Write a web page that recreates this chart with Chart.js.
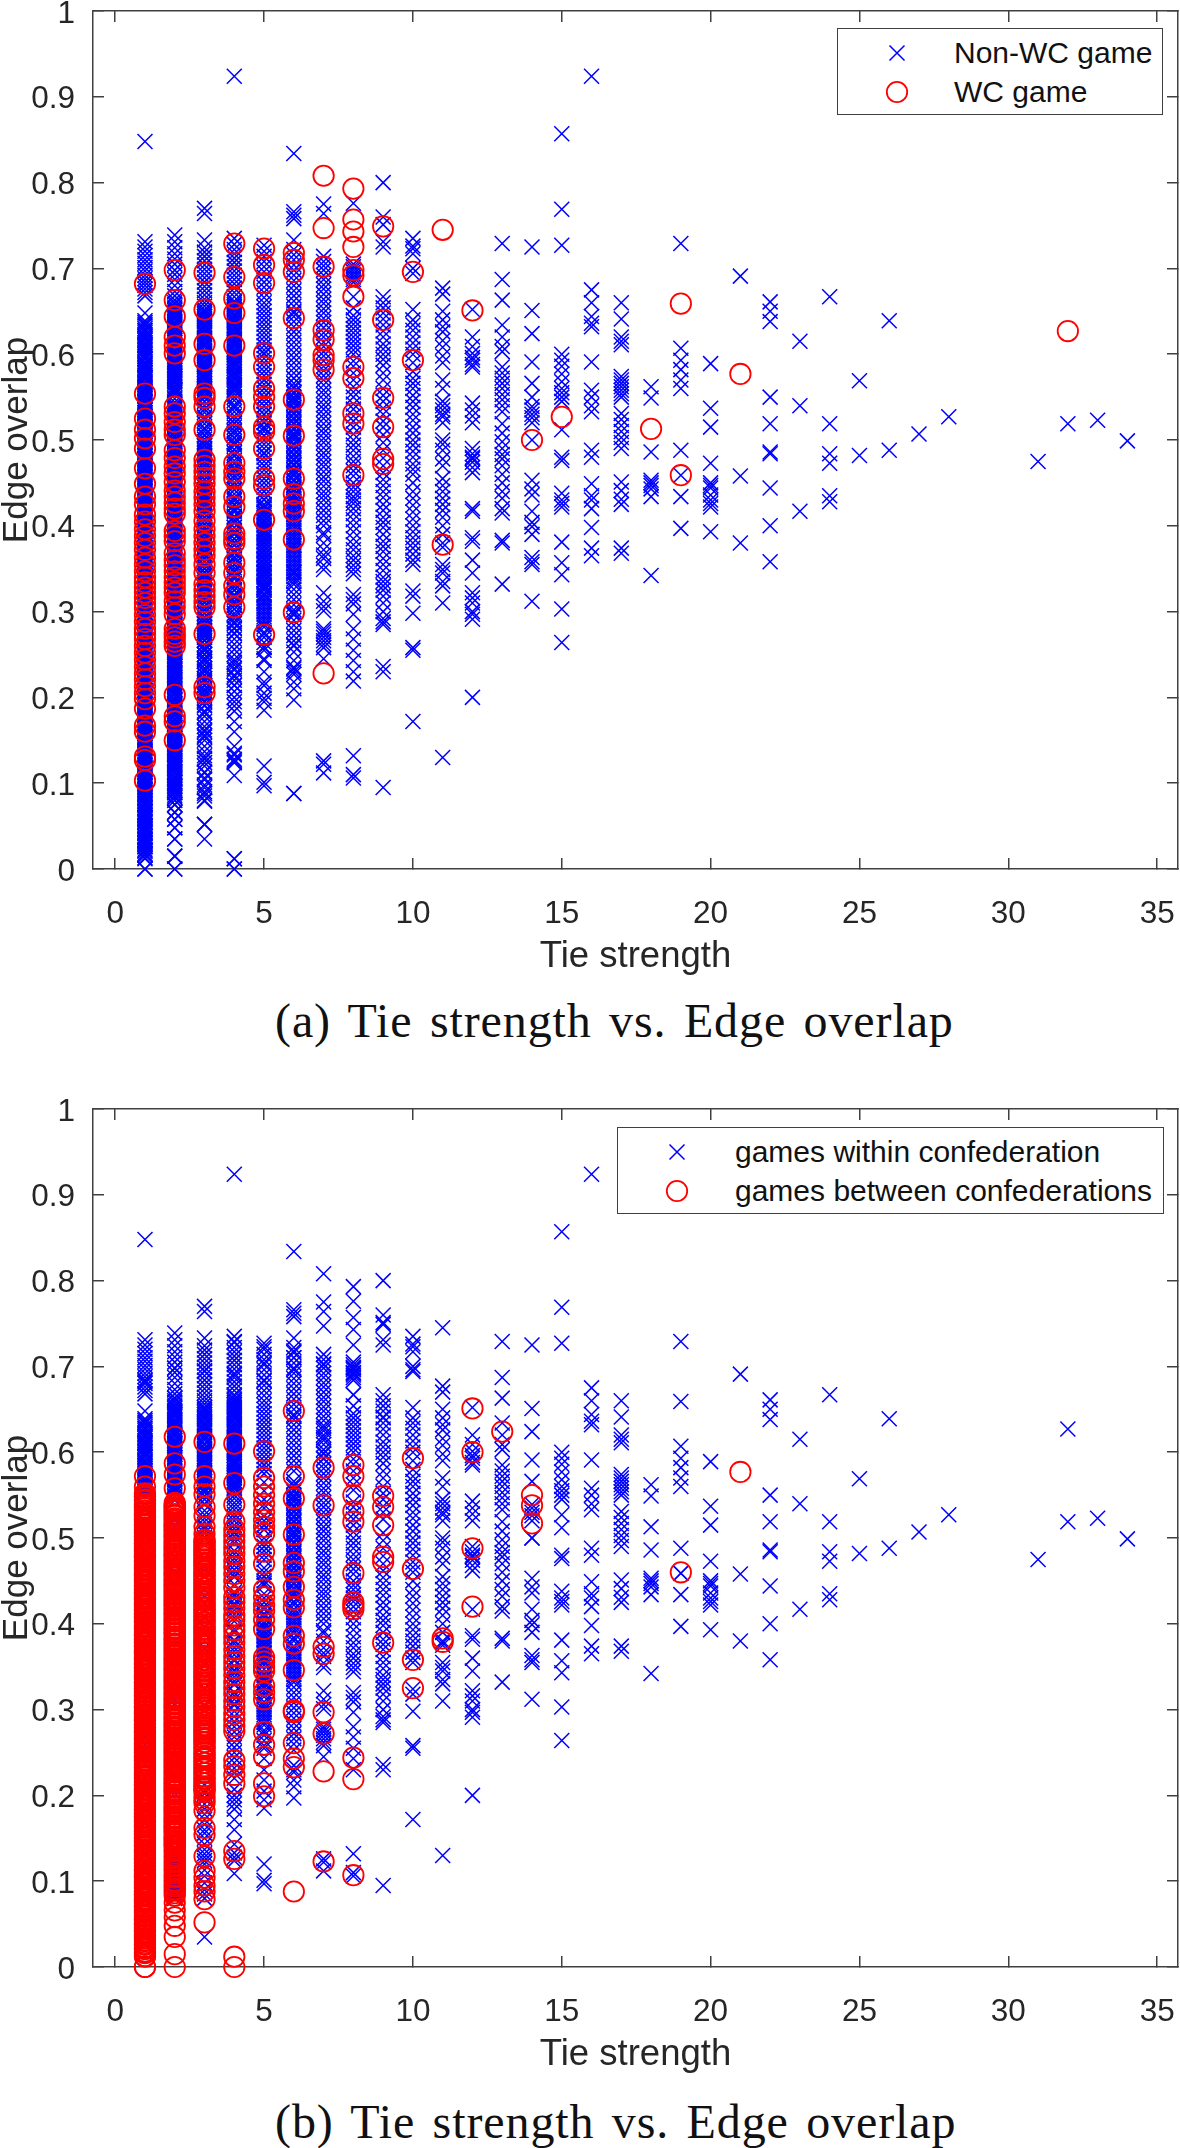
<!DOCTYPE html>
<html>
<head>
<meta charset="utf-8">
<script src="https://cdn.jsdelivr.net/npm/chart.js@4"></script>
<style>
  body { margin: 0; background: #fff; width: 1180px; height: 2148px; position: relative; overflow: hidden; }
  .plot { position: absolute; left: 0; width: 1180px; height: 985px; }
  .plot canvas { filter: blur(0.45px); }
  .caption { position: absolute; left: 275px; white-space: nowrap; font: 48px/60px "Liberation Serif", serif; letter-spacing: 0.9px; word-spacing: 4.5px; color: #111; }
  .legend { position: absolute; box-sizing: border-box; border: 1.5px solid #404040; background: #fff; font: 30px "Liberation Sans", sans-serif; color: #111; }
  .legend div { position: absolute; white-space: nowrap; line-height: 38px; }
  .legend svg { position: absolute; }
</style>
</head>
<body>
<div class="plot" style="top:0"><canvas id="overlapWc" width="1180" height="985"></canvas></div>
<div class="caption" style="top:991px">(a) Tie strength vs. Edge overlap</div>
<div class="legend" id="legendWc" style="left:837px;top:28px;width:326px;height:87px"></div>
<div class="plot" style="top:1098px"><canvas id="overlapConf" width="1180" height="985"></canvas></div>
<div class="caption" style="top:2092px">(b) Tie strength vs. Edge overlap</div>
<div class="legend" id="legendConf" style="left:617px;top:1127px;width:547px;height:87px"></div>
<script>
// values. columns 1-6 are solid bands where single marks
// can't be told apart, so those are estimates at about the mark density
const xTicks = [0, 5, 10, 15, 20, 25, 30, 35];
const yTicks = [0, .1, .2, .3, .4, .5, .6, .7, .8, .9, 1];

// non-WC games, edge overlap per tie strength
const nonWc1 = [.848,.731,.725,.72,.715,.71,.706,.701,.697,.692,.688,.684,.68,.676,.672,.668,.648,.639,.635,.63,.627,.622,.618,.613,.61,.606,.601,.597,.594,.589,.585,.581,.577,.573,.568,.564,.561,.556,.552,.548,.544,.539,.535,.532,.527,.523,.519,.515,.51,.507,.502,.498,.494,.49,.486,.481,.478,.473,.469,.465,.46,.457,.452,.448,.444,.44,.436,.432,.428,.423,.42,.415,.411,.407,.403,.398,.395,.39,.386,.382,.378,.374,.369,.366,.361,.357,.353,.349,.345,.34,.337,.332,.328,.324,.32,.316,.311,.308,.303,.299,.295,.291,.287,.282,.279,.274,.27,.266,.262,.258,.253,.25,.245,.241,.237,.233,.229,.224,.221,.216,.212,.208,.204,.2,.195,.192,.187,.183,.179,.175,.171,.166,.163,.158,.154,.15,.146,.142,.137,.134,.129,.125,.121,.117,.113,.108,.105,.1,.096,.092,.088,.084,.079,.076,.071,.067,.063,.059,.055,.05,.047,.042,.038,.034,.03,.026,.021,.017,.012,0];
const nonWc2 = [.739,.731,.724,.717,.711,.705,.698,.693,.687,.68,.673,.668,.663,.658,.653,.649,.645,.641,.636,.632,.627,.623,.619,.614,.61,.605,.601,.597,.592,.588,.583,.579,.575,.57,.566,.561,.557,.553,.548,.544,.539,.535,.531,.526,.522,.517,.513,.509,.504,.5,.495,.491,.487,.482,.478,.473,.469,.465,.46,.456,.451,.447,.443,.438,.434,.429,.425,.421,.416,.412,.407,.403,.399,.394,.39,.385,.381,.377,.372,.368,.363,.359,.355,.35,.346,.341,.337,.333,.328,.324,.319,.315,.311,.306,.302,.297,.293,.289,.284,.28,.275,.271,.267,.262,.258,.253,.249,.245,.24,.236,.231,.227,.223,.218,.214,.209,.205,.201,.196,.192,.187,.183,.179,.174,.17,.165,.161,.157,.152,.148,.143,.139,.135,.13,.126,.121,.117,.112,.107,.102,.097,.093,.089,.084,.08,.075,.066,.058,.048,.035,.015,0];
const nonWc3 = [.77,.764,.733,.724,.719,.714,.709,.704,.699,.694,.689,.684,.679,.674,.669,.664,.66,.656,.652,.648,.644,.64,.635,.631,.627,.623,.618,.614,.61,.605,.601,.597,.592,.588,.584,.579,.575,.571,.566,.562,.558,.553,.549,.545,.54,.536,.532,.527,.523,.519,.514,.51,.506,.501,.497,.493,.488,.484,.48,.475,.471,.467,.462,.458,.454,.449,.445,.441,.436,.432,.428,.423,.419,.415,.41,.406,.402,.397,.393,.389,.384,.38,.376,.371,.367,.363,.358,.354,.35,.345,.341,.337,.332,.328,.324,.319,.315,.311,.306,.302,.298,.293,.289,.285,.28,.276,.272,.267,.262,.256,.25,.244,.238,.232,.226,.22,.214,.208,.202,.196,.19,.184,.178,.172,.166,.16,.156,.15,.143,.137,.132,.128,.124,.12,.113,.106,.098,.09,.085,.08,.052,.035];
const nonWc4 = [.924,.735,.728,.722,.717,.712,.707,.702,.697,.692,.687,.682,.677,.672,.667,.662,.658,.654,.65,.645,.641,.637,.632,.628,.624,.619,.615,.611,.606,.602,.598,.593,.589,.585,.58,.576,.572,.567,.563,.559,.554,.55,.546,.541,.537,.533,.528,.524,.52,.515,.511,.507,.502,.498,.494,.489,.485,.481,.476,.472,.468,.463,.459,.455,.45,.446,.442,.437,.433,.429,.424,.42,.416,.411,.407,.403,.398,.394,.39,.385,.381,.377,.372,.368,.364,.359,.355,.351,.346,.342,.338,.333,.329,.325,.32,.316,.312,.307,.303,.298,.292,.286,.28,.274,.268,.262,.256,.25,.244,.238,.232,.226,.22,.214,.207,.2,.195,.19,.184,.172,.16,.143,.133,.128,.124,.109,.012,0];
const nonWc5 = [.727,.72,.714,.708,.702,.696,.69,.684,.678,.672,.666,.66,.655,.65,.645,.64,.635,.63,.625,.62,.615,.61,.605,.6,.595,.59,.585,.58,.575,.57,.565,.56,.555,.55,.545,.54,.535,.53,.525,.52,.515,.51,.505,.5,.495,.49,.485,.48,.475,.47,.465,.46,.455,.45,.445,.44,.435,.43,.425,.42,.415,.41,.405,.4,.395,.39,.385,.38,.375,.37,.365,.36,.355,.35,.345,.34,.335,.33,.325,.318,.312,.306,.3,.294,.288,.282,.276,.27,.264,.258,.255,.243,.23,.218,.205,.195,.185,.12,.101,.097];
const nonWc6 = [.834,.766,.762,.758,.733,.722,.716,.71,.704,.698,.692,.686,.68,.674,.668,.662,.656,.65,.644,.638,.632,.626,.62,.614,.608,.602,.596,.59,.584,.578,.572,.566,.56,.554,.548,.542,.536,.53,.524,.518,.512,.506,.5,.494,.488,.482,.476,.47,.464,.458,.452,.446,.44,.434,.428,.422,.416,.41,.404,.398,.392,.386,.38,.374,.368,.362,.356,.35,.344,.338,.332,.326,.32,.314,.308,.302,.296,.29,.284,.278,.272,.266,.26,.253,.235,.23,.227,.218,.21,.197,.088];
const nonWc7 = [.775,.764,.714,.708,.703,.698,.692,.687,.681,.676,.67,.664,.659,.653,.648,.642,.637,.631,.625,.62,.614,.609,.603,.598,.592,.586,.581,.575,.57,.564,.558,.553,.547,.541,.536,.53,.525,.519,.513,.508,.502,.497,.491,.485,.48,.474,.469,.463,.457,.452,.446,.44,.435,.43,.424,.418,.412,.406,.4,.392,.389,.38,.372,.366,.362,.354,.349,.322,.312,.306,.301,.28,.277,.274,.27,.266,.262,.258,.245,.126,.122,.112];
const nonWc8 = [.776,.705,.702,.699,.696,.693,.69,.687,.684,.667,.654,.645,.64,.635,.63,.625,.62,.615,.61,.605,.6,.592,.586,.578,.57,.562,.556,.55,.542,.536,.528,.522,.515,.507,.5,.494,.488,.481,.475,.47,.464,.458,.45,.445,.44,.434,.43,.426,.42,.414,.407,.4,.393,.385,.378,.372,.365,.36,.354,.349,.344,.32,.314,.309,.297,.28,.268,.255,.243,.23,.219,.132,.11,.106];
const nonWc9 = [.8,.76,.751,.731,.725,.667,.66,.654,.648,.641,.634,.627,.62,.612,.606,.6,.594,.587,.578,.57,.56,.552,.545,.537,.53,.522,.515,.506,.497,.488,.479,.47,.462,.454,.447,.44,.433,.425,.418,.41,.404,.398,.39,.382,.376,.37,.362,.355,.348,.34,.335,.33,.325,.318,.31,.3,.292,.288,.285,.236,.23,.095];
const nonWc10 = [.735,.726,.723,.717,.7,.694,.652,.64,.634,.628,.62,.613,.606,.6,.59,.58,.572,.566,.56,.552,.545,.538,.53,.523,.515,.508,.5,.494,.487,.48,.472,.466,.46,.45,.44,.432,.424,.416,.408,.4,.393,.386,.38,.374,.367,.36,.355,.324,.318,.298,.258,.255,.172];
const nonWc11 = [.677,.67,.65,.64,.632,.626,.616,.608,.598,.59,.57,.56,.545,.54,.535,.53,.527,.52,.5,.495,.488,.478,.47,.455,.447,.44,.432,.425,.418,.41,.4,.39,.38,.375,.355,.349,.345,.335,.33,.31,.13];
const nonWc12 = [.652,.62,.609,.601,.596,.593,.588,.585,.543,.535,.528,.52,.49,.484,.48,.478,.474,.468,.462,.42,.417,.386,.382,.36,.345,.322,.316,.31,.3,.297,.291,.2];
const nonWc13 = [.729,.687,.663,.634,.62,.609,.603,.585,.578,.572,.566,.56,.553,.547,.54,.533,.519,.508,.498,.49,.483,.478,.47,.46,.45,.44,.432,.42,.415,.383,.38,.332];
const nonWc14 = [.725,.651,.624,.591,.566,.55,.539,.535,.53,.526,.52,.5,.453,.443,.436,.417,.404,.399,.39,.363,.358,.355,.312];
const nonWc15 = [.857,.769,.727,.6,.593,.586,.577,.568,.56,.555,.55,.545,.512,.48,.476,.438,.43,.426,.422,.381,.357,.343,.303,.264];
const nonWc16 = [.924,.675,.66,.644,.636,.632,.591,.558,.55,.54,.533,.488,.48,.449,.435,.43,.42,.398,.374,.365];
const nonWc17 = [.66,.641,.62,.615,.611,.574,.57,.566,.562,.558,.554,.55,.531,.524,.517,.51,.503,.497,.49,.451,.441,.431,.425,.374,.368];
const nonWc18 = [.562,.549,.486,.453,.45,.447,.443,.434,.342];
const nonWc19 = [.729,.607,.593,.582,.57,.56,.488,.459,.434,.397];
const nonWc20 = [.589,.537,.515,.473,.45,.447,.444,.436,.43,.426,.422,.393];
const nonWc21 = [.691,.458,.38];
const nonWc22 = [.661,.65,.638,.55,.519,.486,.484,.444,.4,.358];
const nonWc23 = [.615,.54,.417];
const nonWc24 = [.667,.519,.484,.473,.435,.428];
const nonWc25 = [.569,.482];
const nonWc26 = [.639,.488];
const nonWc27 = [.507];
const nonWc28 = [.527];
const nonWc31 = [.475];
const nonWc32 = [.519];
const nonWc33 = [.523];
const nonWc34 = [.499];

// more non-WC marks inside the solid parts of the first columns
const solid1 = [.637,.633,.628,.625,.62,.616,.611,.608,.604,.599,.595,.591,.587,.583,.579,.575,.571,.566,.562,.558,.554];
const solid2 = [.66,.655,.651,.647,.643,.638,.634,.63,.625,.621,.616,.612,.608,.603,.599,.594,.59,.585,.581,.577,.572,.568,.563,.559,.555];
const solid3 = [.65,.646,.642,.638,.633,.629,.625,.62,.616,.612,.608,.603,.599,.595,.59,.586,.582,.577,.573,.569,.564,.56,.556];
const solid4 = [.66,.656,.652,.647,.643,.639,.634,.63,.626,.622,.617,.613,.609,.604,.6,.596,.591,.587,.583,.578,.574,.57,.565,.561,.557];
const solid5 = [.422,.417,.412,.407,.402,.397,.392,.387,.382,.377,.372,.367,.362,.357,.352,.347,.342,.337,.332,.327,.321,.315,.309,.303,.297,.291,.285];
const solid6 = [.562,.556,.55,.544,.538,.532,.526,.52,.514,.508,.502,.496,.49,.484,.478,.472,.466,.46,.454,.448,.442,.436,.431,.425,.419,.413,.407,.401,.395,.389,.383,.377,.371,.365,.359,.353,.347,.341,.335];

// WC games
const wc1 = [.682,.554,.525,.512,.502,.49,.467,.449,.434,.425,.413,.405,.396,.388,.38,.372,.363,.355,.347,.34,.334,.328,.322,.316,.31,.304,.296,.288,.28,.274,.268,.26,.252,.244,.236,.228,.221,.213,.205,.198,.187,.167,.16,.131,.127,.103];
const wc2 = [.698,.663,.644,.62,.61,.601,.539,.531,.521,.512,.506,.488,.479,.469,.461,.451,.441,.434,.427,.42,.414,.394,.388,.382,.368,.36,.354,.347,.34,.334,.328,.322,.312,.305,.297,.28,.274,.27,.265,.26,.203,.178,.172,.15];
const wc3 = [.695,.652,.612,.593,.554,.549,.539,.512,.477,.47,.463,.456,.449,.44,.433,.425,.417,.406,.396,.388,.38,.372,.365,.355,.345,.332,.325,.318,.311,.305,.274,.212,.205];
const wc4 = [.729,.69,.665,.648,.61,.539,.506,.473,.463,.455,.434,.422,.391,.385,.38,.357,.345,.33,.32,.305];
const wc5 = [.723,.704,.683,.601,.585,.56,.55,.539,.515,.51,.49,.455,.447,.407,.273];
const wc6 = [.718,.71,.696,.642,.547,.505,.455,.437,.426,.417,.384,.299];
const wc7 = [.808,.747,.702,.628,.617,.599,.593,.582,.228];
const wc8 = [.793,.757,.743,.725,.698,.692,.667,.585,.572,.531,.519,.459];
const wc9 = [.749,.64,.549,.515,.478,.472];
const wc10 = [.696,.593];
const wc11 = [.745,.378];
const wc12 = [.651];
const wc14 = [.5];
const wc15 = [.527];
const wc18 = [.513];
const wc19 = [.659,.459];
const wc21 = [.577];
const wc32 = [.627];
const wcTies = [1,2,3,4,5,6,7,8,9,10,11,12,14,15,18,19,21,32];
const wcCols = [wc1,wc2,wc3,wc4,wc5,wc6,wc7,wc8,wc9,wc10,wc11,wc12,wc14,wc15,wc18,wc19,wc21,wc32];

// games between confederations
const between1 = [.572,.56,.551,.548,.545,.543,.54,.538,.535,.532,.53,.527,.525,.522,.52,.517,.515,.512,.51,.507,.505,.502,.5,.497,.494,.492,.489,.487,.484,.482,.479,.477,.474,.472,.469,.467,.464,.462,.459,.456,.454,.451,.449,.446,.444,.441,.439,.436,.434,.431,.429,.426,.424,.421,.418,.416,.413,.411,.408,.406,.403,.401,.398,.396,.393,.391,.388,.386,.383,.38,.378,.375,.373,.37,.368,.365,.363,.36,.358,.355,.353,.35,.348,.345,.342,.34,.337,.335,.332,.33,.327,.325,.322,.32,.317,.315,.312,.31,.307,.304,.302,.299,.297,.294,.292,.289,.287,.284,.282,.279,.277,.274,.272,.269,.266,.264,.261,.259,.256,.254,.251,.249,.246,.244,.241,.239,.236,.234,.231,.228,.226,.223,.221,.218,.216,.213,.211,.208,.206,.203,.201,.198,.196,.193,.19,.188,.185,.183,.18,.178,.175,.173,.17,.168,.165,.163,.16,.158,.155,.152,.15,.147,.145,.142,.14,.137,.135,.132,.13,.127,.125,.122,.12,.117,.114,.112,.109,.107,.104,.102,.099,.097,.094,.092,.089,.087,.084,.082,.079,.076,.074,.071,.069,.066,.064,.061,.059,.056,.054,.051,.049,.046,.044,.041,.038,.036,.033,.031,.028,.026,.023,.021,.018,.016,.013,0];
const between2 = [.618,.587,.574,.558,.541,.538,.536,.533,.531,.528,.526,.523,.52,.518,.515,.513,.51,.508,.505,.503,.5,.497,.495,.492,.49,.487,.485,.482,.48,.477,.474,.472,.469,.467,.464,.462,.459,.457,.454,.451,.449,.446,.444,.441,.439,.436,.434,.431,.428,.426,.423,.421,.418,.416,.413,.411,.408,.405,.403,.4,.398,.395,.393,.39,.388,.385,.382,.38,.377,.375,.372,.37,.367,.365,.362,.359,.357,.354,.352,.349,.347,.344,.342,.339,.336,.334,.331,.329,.326,.324,.321,.319,.316,.313,.311,.308,.306,.303,.301,.298,.296,.293,.29,.288,.285,.283,.28,.278,.275,.273,.27,.267,.265,.262,.26,.257,.255,.252,.25,.247,.244,.242,.239,.237,.234,.232,.229,.227,.224,.221,.219,.216,.214,.211,.209,.206,.204,.201,.198,.196,.193,.191,.188,.186,.183,.181,.178,.175,.173,.17,.168,.165,.163,.16,.158,.155,.152,.15,.147,.145,.142,.14,.137,.135,.132,.129,.127,.124,.122,.119,.117,.114,.112,.109,.106,.104,.101,.099,.096,.094,.091,.089,.086,.083,.075,.066,.058,.048,.035,.015,0];
const between3 = [.612,.572,.56,.551,.536,.526,.513,.505,.498,.494,.49,.486,.482,.478,.474,.47,.466,.462,.458,.454,.45,.446,.442,.438,.434,.43,.426,.422,.418,.414,.41,.406,.402,.398,.394,.39,.386,.382,.378,.374,.37,.366,.362,.358,.354,.35,.346,.342,.338,.334,.33,.326,.322,.318,.314,.31,.306,.302,.298,.294,.29,.286,.282,.278,.274,.27,.266,.262,.258,.254,.25,.246,.242,.238,.234,.23,.226,.222,.218,.214,.21,.207,.204,.199,.195,.191,.182,.162,.154,.129,.112,.104,.095,.088,.079,.052];
const between4 = [.61,.564,.539,.519,.51,.503,.496,.489,.482,.473,.466,.458,.45,.442,.431,.425,.418,.41,.405,.398,.392,.385,.378,.37,.362,.355,.348,.34,.332,.325,.318,.31,.303,.295,.288,.281,.275,.241,.234,.224,.214,.135,.126,.012,0];
const between5 = [.601,.57,.56,.55,.54,.53,.521,.513,.505,.484,.47,.44,.431,.422,.415,.405,.394,.361,.356,.35,.345,.328,.32,.312,.274,.259,.245,.214,.199];
const between6 = [.648,.572,.546,.504,.471,.461,.443,.428,.419,.386,.377,.346,.299,.297,.261,.243,.233,.088];
const between7 = [.582,.538,.373,.365,.297,.272,.228,.123];
const between8 = [.585,.572,.55,.531,.519,.459,.425,.421,.417,.244,.219,.107];
const between9 = [.549,.536,.515,.478,.472,.378];
const between10 = [.593,.464,.358,.325];
const between11 = [.383,.379];
const between12 = [.651,.6,.488,.42];
const between13 = [.624];
const between14 = [.55,.538,.517];
const between19 = [.46];
const between21 = [.577];
const betweenTies = [1,2,3,4,5,6,7,8,9,10,11,12,13,14,19,21];
// inside these overlaps the first three columns are all red in panel b
const redBelow = [.553, .543, .5];
const redAbove = [0, .14, .205];
const betweenCols = [
  between1.concat(nonWc1.filter(v => v <= redBelow[0] && v >= redAbove[0])),
  between2.concat(nonWc2.filter(v => v <= redBelow[1] && v >= redAbove[1])),
  between3.concat(nonWc3.filter(v => v <= redBelow[2] && v >= redAbove[2])),
  between4,between5,between6,between7,between8,between9,between10,between11,between12,between13,between14,between19,between21];

// a game between confederations in columns 1-6 is mostly a non-WC game as well
const nonWcTies = [1,2,3,4,5,6,7,8,9,10,11,12,13,14,15,16,17,18,19,20,21,22,23,24,25,26,27,28,31,32,33,34];
const nonWcCols = [nonWc1.concat(solid1,between1),nonWc2.concat(solid2,between2),nonWc3.concat(solid3,between3),nonWc4.concat(solid4,between4),nonWc5.concat(solid5,between5),nonWc6.concat(solid6,between6),nonWc7,nonWc8,nonWc9,nonWc10,nonWc11,nonWc12,nonWc13,nonWc14,nonWc15,nonWc16,nonWc17,nonWc18,nonWc19,nonWc20,nonWc21,nonWc22,nonWc23,nonWc24,nonWc25,nonWc26,nonWc27,nonWc28,nonWc31,nonWc32,nonWc33,nonWc34];

function column(ties, cols, t) {
  const i = ties.indexOf(t);
  return i < 0 ? [] : cols[i];
}

function toPoints(ties, cols) {
  return ties.flatMap((t, i) => cols[i].map(v => ({ x: t, y: v })));
}

// panel b uses the same games as panel a, split the other way
function withinPoints() {
  return nonWcTies.flatMap(t => {
    const cross = column(betweenTies, betweenCols, t);
    return column(nonWcTies, nonWcCols, t).concat(column(wcTies, wcCols, t))
      .filter(v => !cross.includes(v) || (t === 2 && v < redAbove[1] && v > .075))
      .map(v => ({ x: t, y: v }));
  });
}

const axisColor = '#404040';
const tickColor = '#262626';
const plotFont = 'Liberation Sans';

function hiddenSide(axis, position, ticks) {
  return {
    type: 'linear', axis: axis, position: position, min: ticks.min, max: ticks.max,
    border: { color: axisColor, width: 1.5 },
    grid: { drawOnChartArea: false, tickLength: -11, color: axisColor, lineWidth: 1.5 },
    ticks: { display: false, stepSize: ticks.step, includeBounds: false, autoSkip: false },
    afterFit(s) { s.width = 0; s.height = 0; s.paddingLeft = s.paddingRight = s.paddingTop = s.paddingBottom = 0; }
  };
}

function drawPanel(id, blueLabel, bluePoints, redLabel, redPoints) {
  const xRange = { min: -0.746, max: 35.7, step: 5 };
  const yRange = { min: 0, max: 1, step: 0.1 };
  return new Chart(document.getElementById(id), {
    type: 'scatter',
    data: {
      datasets: [
        { label: redLabel, data: redPoints, order: 1, pointStyle: 'circle', radius: 10.2, borderColor: '#ff0000', borderWidth: 1.8, backgroundColor: 'transparent', clip: false },
        { label: blueLabel, data: bluePoints, order: 2, pointStyle: 'crossRot', radius: 10.6, borderColor: '#0000ff', borderWidth: 1.5, backgroundColor: 'transparent', clip: false }
      ]
    },
    options: {
      responsive: false,
      animation: false,
      events: [],
      layout: { autoPadding: false, padding: { top: 11, right: 2, left: 0, bottom: 0 } },
      plugins: { legend: { display: false }, tooltip: { enabled: false } },
      scales: {
        x: {
          type: 'linear', position: 'bottom', min: xRange.min, max: xRange.max,
          border: { color: axisColor, width: 1.5 },
          grid: { drawOnChartArea: false, tickLength: -11, color: axisColor, lineWidth: 1.5 },
          ticks: { stepSize: 5, includeBounds: false, autoSkip: false, maxRotation: 0, padding: 37, color: tickColor, font: { family: plotFont, size: 31.5 } },
          title: { display: true, text: 'Tie strength', color: tickColor, padding: { top: 0, bottom: 6 }, font: { family: plotFont, size: 36.5 } },
          afterFit(s) { s.height = 116; s.paddingLeft = 0; s.paddingRight = 0; }
        },
        y: {
          type: 'linear', position: 'left', min: yRange.min, max: yRange.max,
          border: { color: axisColor, width: 1.5 },
          grid: { drawOnChartArea: false, tickLength: -11, color: axisColor, lineWidth: 1.5 },
          ticks: { stepSize: 0.1, includeBounds: false, autoSkip: false, padding: 29, labelOffset: 3, color: tickColor, font: { family: plotFont, size: 31.5 },
            callback: v => String(+v.toFixed(1)) },
          title: { display: true, text: 'Edge overlap', color: tickColor, padding: 0, font: { family: plotFont, size: 35, lineHeight: 1 } },
          afterFit(s) { s.width = 93; s.paddingTop = 0; s.paddingBottom = 0; }
        },
        x2: hiddenSide('x', 'top', xRange),
        y2: hiddenSide('y', 'right', yRange)
      }
    }
  });
}

// matlab style legend box, filled from the chart's own datasets
function drawLegend(boxId, chart, markX, textX) {
  const box = document.getElementById(boxId);
  const rows = [chart.data.datasets[1], chart.data.datasets[0]];
  const rowY = [24, 63];
  rows.forEach((ds, i) => {
    const mark = ds.pointStyle === 'circle'
      ? '<circle cx="14" cy="14" r="10.2" fill="none" stroke="#ff0000" stroke-width="1.8"/>'
      : '<path d="M6.5 6.5L21.5 21.5M21.5 6.5L6.5 21.5" fill="none" stroke="#0000ff" stroke-width="1.5"/>';
    box.insertAdjacentHTML('beforeend',
      '<svg width="28" height="28" style="left:' + (markX - 14) + 'px;top:' + (rowY[i] - 14) + 'px">' + mark + '</svg>' +
      '<div style="left:' + textX + 'px;top:' + (rowY[i] - 19) + 'px">' + ds.label + '</div>');
  });
}

const chartWc = drawPanel('overlapWc', 'Non-WC game', toPoints(nonWcTies, nonWcCols), 'WC game', toPoints(wcTies, wcCols));
const chartConf = drawPanel('overlapConf', 'games within confederation', withinPoints(), 'games between confederations', toPoints(betweenTies, betweenCols));
drawLegend('legendWc', chartWc, 59, 116);
drawLegend('legendConf', chartConf, 59, 117);
</script>
</body>
</html>
